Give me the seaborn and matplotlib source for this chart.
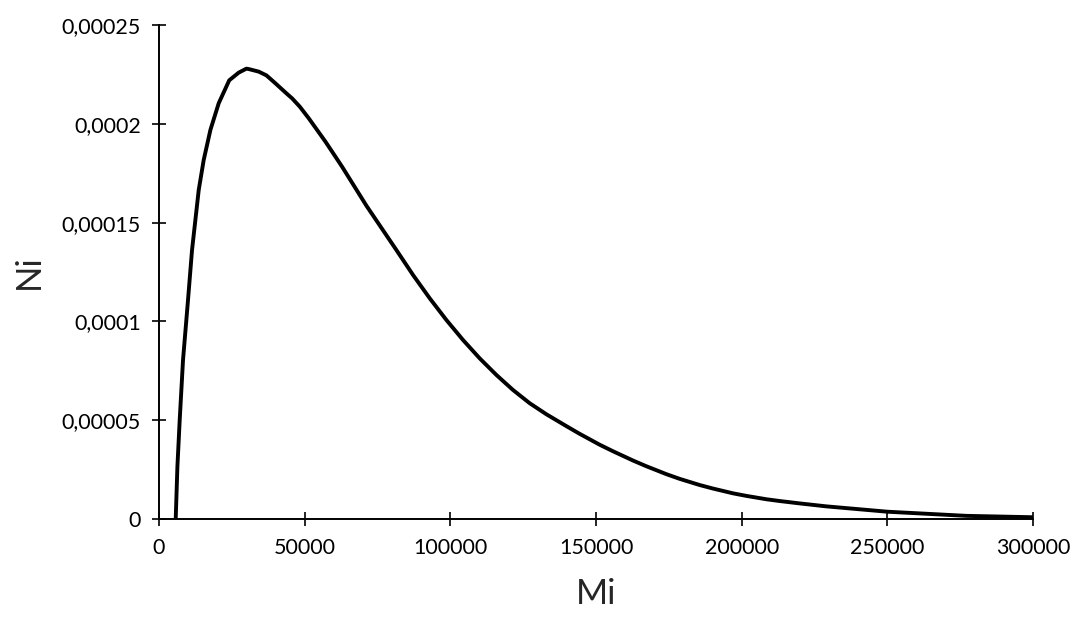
import matplotlib
matplotlib.use("Agg")
import matplotlib.pyplot as plt
import seaborn as sns
import pandas as pd

# Values
mi = [5730, 6310, 7100, 8240, 9950, 11330, 13630, 15340, 17640, 20490,
      24100, 27360, 30000, 30790, 34220, 36870, 39940, 43730, 45660, 48300,
      51390, 57110, 59730, 62830, 68550, 71170, 81490, 87190, 92920, 98650,
      104350, 110080, 115810, 121510, 127240, 132980, 139840, 144280, 151260,
      155830, 162700, 167300, 174160, 178770, 185600, 190200, 197030, 201630,
      208490, 213090, 219920, 229100, 250000, 277140, 300000]
ni = [0, 2.65e-5, 5.01e-5, 8.05e-5, 1.108e-4, 1.361e-4, 1.665e-4, 1.817e-4,
      1.969e-4, 2.104e-4, 2.22e-4, 2.259e-4, 2.279e-4, 2.277e-4, 2.264e-4,
      2.245e-4, 2.205e-4, 2.154e-4, 2.129e-4, 2.087e-4, 2.028e-4, 1.910e-4,
      1.852e-4, 1.783e-4, 1.648e-4, 1.586e-4, 1.361e-4, 1.235e-4, 1.117e-4,
      1.007e-4, 9.06e-5, 8.13e-5, 7.29e-5, 6.53e-5, 5.86e-5, 5.30e-5,
      4.70e-5, 4.32e-5, 3.76e-5, 3.43e-5, 2.96e-5, 2.67e-5, 2.27e-5,
      2.03e-5, 1.72e-5, 1.54e-5, 1.30e-5, 1.17e-5, 1.00e-5, 9.1e-6, 7.9e-6,
      6.4e-6, 3.7e-6, 1.6e-6, 9e-7]

x_ticks = [0, 50000, 100000, 150000, 200000, 250000, 300000]
x_tick_labels = ["0", "50000", "100000", "150000", "200000", "250000", "300000"]
y_ticks = [0, 0.00005, 0.0001, 0.00015, 0.0002, 0.00025]
y_tick_labels = ["0", "0,00005", "0,0001", "0,00015", "0,0002", "0,00025"]

df = pd.DataFrame({"Mi": mi, "Ni": ni})

sns.set_style("white")
plt.rcParams['font.family'] = ['Lato', 'DejaVu Sans']

fig = plt.figure(figsize=(10.73, 6.17), dpi=100)
ax = fig.add_axes([0.1482, 0.1588, 0.8145, 0.8007])

sns.lineplot(data=df, x="Mi", y="Ni", ax=ax, color="black", linewidth=2.8,
             sort=False, solid_joinstyle="round", solid_capstyle="round")

ax.set_xlim(0, 300000)
ax.set_ylim(0, 0.00025)
ax.set_xticks(x_ticks)
ax.set_xticklabels(x_tick_labels)
ax.set_yticks(y_ticks)
ax.set_yticklabels(y_tick_labels)

sns.despine(ax=ax)
for side in ["left", "bottom"]:
    ax.spines[side].set_color("black")
    ax.spines[side].set_linewidth(1.4)

ax.tick_params(axis="both", direction="inout", length=10, width=1.2,
               colors="black", labelsize=15.5, bottom=True, left=True)
ax.tick_params(axis="y", pad=8)
ax.tick_params(axis="x", pad=9)

ax.set_xlabel("Mi", fontsize=25, labelpad=14)
ax.set_ylabel("Ni", fontsize=25, labelpad=12)

fig.savefig("out.png", dpi=100)
